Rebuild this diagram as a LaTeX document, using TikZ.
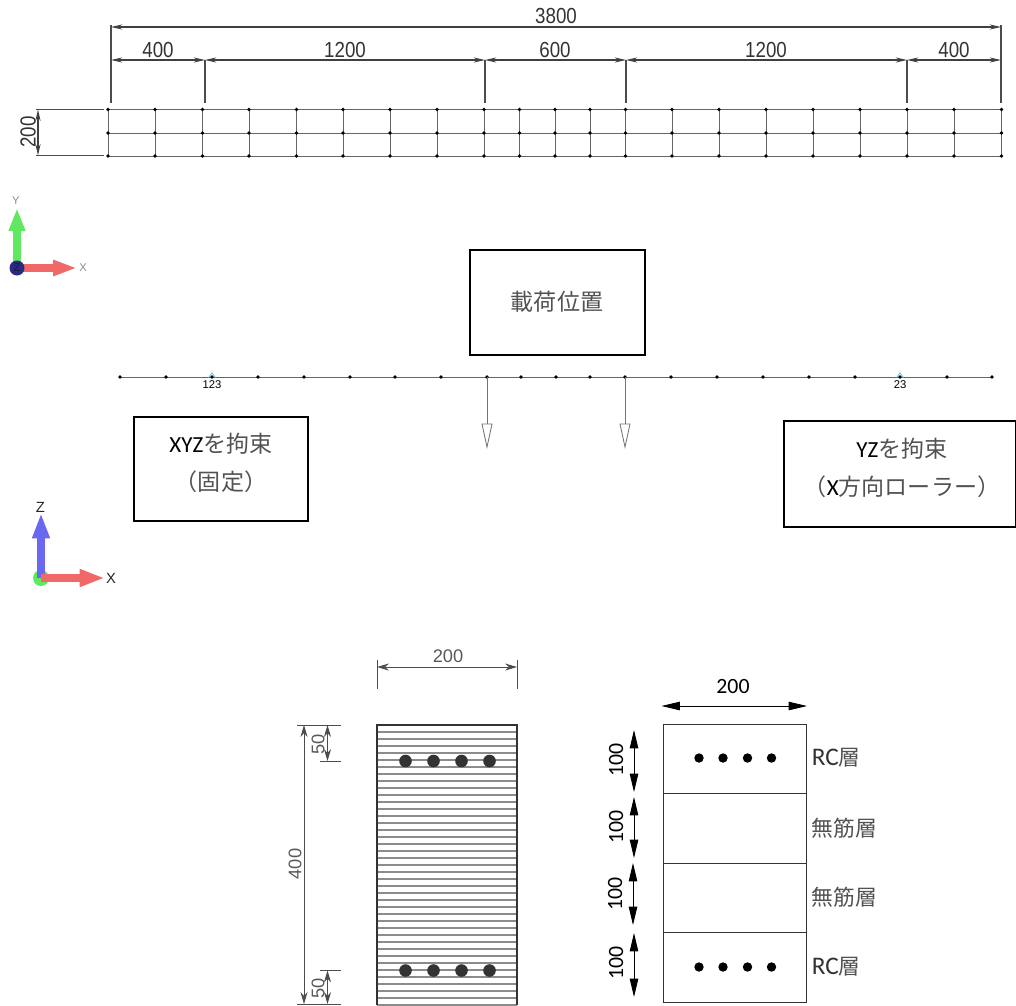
\documentclass[tikz,border=0pt]{standalone}
\usepackage{fontspec}
\setmainfont{Carlito}
\newfontfamily\jpfont{Noto Sans CJK JP}
\newfontfamily\dimfont{Liberation Sans}
\usetikzlibrary{arrows.meta}
\definecolor{axisred}{RGB}{240,104,104}
\definecolor{axisgreen}{RGB}{96,232,96}
\definecolor{axisblue}{RGB}{104,104,240}
\definecolor{axisnavy}{RGB}{42,42,128}
\newcommand{\jp}[1]{{\jpfont\color{black!68}#1}}
\newcommand{\cad}[1]{\scalebox{0.86}[1]{#1}}
\tikzset{
  gridline/.style={black!60,line width=0.6pt},
  gridnode/.style={fill=black},
  topdim/.style={black!75,line width=1.1pt,{Stealth[length=8pt,width=3.6pt]}-{Stealth[length=8pt,width=3.6pt]}},
  toptick/.style={black!70,line width=1.1pt},
  toptext/.style={font=\dimfont\fontsize{15.5}{16}\selectfont,text=black!80},
  secdim/.style={black!70,line width=0.6pt,{Stealth[length=8.5pt,width=5pt]}-{Stealth[length=8.5pt,width=5pt]}},
  sectick/.style={black!70,line width=0.6pt},
  sectext/.style={font=\dimfont\fontsize{13}{14}\selectfont,text=black!65},
  arrdim/.style={black,line width=0.6pt,{Triangle[length=13pt,width=6pt]}-{Triangle[length=13pt,width=6pt]}},
  arrtext/.style={font=\fontsize{15.5}{16}\selectfont},
  labelbox/.style={draw=black,line width=1.1pt},
  boxtext/.style={align=center,font=\fontsize{16.4}{27}\selectfont},
  layertext/.style={anchor=west,inner sep=0pt,font=\fontsize{15.5}{16}\selectfont},
  axistext/.style={font=\dimfont\fontsize{8}{9}\selectfont,text=black!45},
  triadtext/.style={font=\dimfont\fontsize{10.5}{11}\selectfont,text=black!85},
  nodetext/.style={font=\dimfont\fontsize{8}{8}\selectfont,inner sep=0pt}
}
\begin{document}
\begin{tikzpicture}[x=0.25mm,y=-0.25mm]
\useasboundingbox (0,0) rectangle (1016,1005);

% top view mesh
\foreach \y in {109.5,133,156}
   \draw[gridline] (108,\y) -- (1001.5,\y);
\foreach \x in {108,155,202.5,249,296.5,343,390,437,484,519.5,555,590,625.5,672,719,766,813,860,907,954,1001.5}
{
   \draw[gridline] (\x,109.5) -- (\x,156);
   \foreach \y in {109.5,133,156}
      \fill[gridnode] (\x,\y) circle[radius=1.9];
}

% top view dimensions
\foreach \x/\t in {111/25,205/60,485/60,626/60,907/60,1001/25}
   \draw[toptick] (\x,\t) -- (\x,103);
\draw[topdim] (111,27) -- (1001,27);
\draw[topdim] (111,60) -- (205,60);
\draw[topdim] (205,60) -- (485,60);
\draw[topdim] (485,60) -- (626,60);
\draw[topdim] (626,60) -- (907,60);
\draw[topdim] (907,60) -- (1001,60);
\node[toptext] (total) at (556,16) {\cad{3800}};
\node[toptext] (spanA) at (158,50) {\cad{400}};
\node[toptext] (spanB) at (345,50) {\cad{1200}};
\node[toptext] (spanC) at (555,50) {\cad{600}};
\node[toptext] (spanD) at (766,50) {\cad{1200}};
\node[toptext] (spanE) at (954,50) {\cad{400}};
\draw[toptick] (36,109.5) -- (104,109.5);
\draw[toptick] (36,155.5) -- (104,155.5);
\draw[topdim] (38,109.5) -- (38,155.5);
\node[toptext,rotate=90] (width) at (28,132) {\cad{200}};

% XY axes
\draw[axisgreen,line width=5.7pt,-{Triangle[length=16.5pt,width=11pt]}] (17,268) -- (17,208);
\draw[axisred,line width=5pt,-{Triangle[length=17pt,width=10.5pt]}] (17,268) -- (77,268);
\fill[axisnavy] (17,268) circle[radius=7.5];
\node[axistext] (axisY) at (16,201) {Y};
\node[axistext] (axisX) at (83,268) {X};
\node[axistext,text=axisnavy!60!black] (axisZ) at (17,268) {Z};

% beam model
\draw[gridline] (120,377) -- (992,377);
\foreach \x in {120,166,212,258,304,350,395,441,487,521,556,590,625,671,717,763,809,855,900,947,992}
   \fill[gridnode] (\x,377) circle[radius=1.9];
\foreach \x in {212,900}
   \draw[cyan!70,line width=0.5pt] (\x-3.5,377.5) -- (\x,373) -- (\x+3.5,377.5);
\node[nodetext] (fixlabel) at (212,385) {123};
\node[nodetext] (rolllabel) at (900,385) {23};
\foreach \x in {487,625}
{
   \draw[black!55,line width=0.6pt] (\x,377) -- (\x,424);
   \draw[black!55,line width=0.6pt] (\x-5,424) -- (\x+5,424) -- (\x,447) -- cycle;
}

% label boxes
\draw[labelbox] (470,250) rectangle (645,355);
\node[boxtext] (loadtext) at (557,302) {\jp{載荷位置}};
\draw[labelbox] (134,417) rectangle (308,521);
\node[boxtext] (fixtext) at (221,463) {XYZ\jp{を拘束}\\\jp{（固定）}};
\draw[labelbox] (784,421) rectangle (1015.5,527);
\node[boxtext] (rolltext) at (902,468) {YZ\jp{を拘束}\\\jp{（}X\jp{方向ローラー）}};

% XZ axes
\fill[axisgreen] (41,578) circle[radius=8];
\draw[axisblue,line width=5.7pt,-{Triangle[length=18pt,width=11.5pt]}] (41,578) -- (41,513);
\draw[axisred,line width=5.7pt,-{Triangle[length=18pt,width=11.5pt]}] (41,578) -- (105,578);
\node[triadtext] (axisZb) at (40.5,507) {Z};
\node[triadtext] (axisXb) at (111,578) {X};

% section with bars
\draw[sectick] (377,660) -- (377,689);
\draw[sectick] (517,660) -- (517,689);
\draw[secdim] (377,667) -- (517,667);
\node[sectext] (secwidth) at (448,656) {200};
\foreach \k in {0,...,40}
   \draw[black!45,line width=0.9pt] (377,725+7*\k) -- (517,725+7*\k);
\draw[black!80,line width=0.8pt] (377,1005) -- (377,725) -- (517,725) -- (517,1005);
\foreach \x in {405.5,433.5,461.5,489.5}
{
   \fill[black!80] (\x,761) circle[radius=6.3];
   \fill[black!80] (\x,970.5) circle[radius=6.3];
}
\draw[sectick] (297,725) -- (341,725);
\draw[sectick] (320,761) -- (341,761);
\draw[sectick] (320,970.5) -- (341,970.5);
\draw[sectick] (297,1004) -- (341,1004);
\draw[secdim] (304,725) -- (304,1004);
\draw[secdim] (327.5,725) -- (327.5,761);
\draw[secdim] (327.5,970.5) -- (327.5,1004);
\node[sectext,rotate=90] (secheight) at (295,864) {400};
\node[sectext,rotate=90] (covertop) at (318,744) {50};
\node[sectext,rotate=90] (coverbot) at (318,988) {50};

% layer model
\draw[black!80,line width=0.7pt] (663,724) rectangle (806,1002);
\foreach \y in {793.5,863,932.5}
   \draw[black!80,line width=0.7pt] (663,\y) -- (806,\y);
\foreach \x in {699,723,747.5,771.5}
{
   \fill[black] (\x,758) circle[radius=4.7];
   \fill[black] (\x,967) circle[radius=4.7];
}
\draw[arrdim] (661.5,706) -- (807,706);
\node[arrtext] (layerwidth) at (733,686) {200};
\foreach \x/\a/\b/\c in {634/730/792/760,634/797/858/827,633/863/925/894,634/933/997/963}
{
   \draw[arrdim] (\x,\a) -- (\x,\b);
   \node[arrtext,rotate=90] at (\x-18,\c) {100};
}
\node[layertext] (layerA) at (811.5,758) {{\fontsize{18}{18}\selectfont\color{black!80}RC}\jp{層}};
\node[layertext] (layerB) at (811.5,828) {\jp{無筋層}};
\node[layertext] (layerC) at (811.5,897) {\jp{無筋層}};
\node[layertext] (layerD) at (811.5,966.5) {{\fontsize{18}{18}\selectfont\color{black!80}RC}\jp{層}};
\end{tikzpicture}
\end{document}
